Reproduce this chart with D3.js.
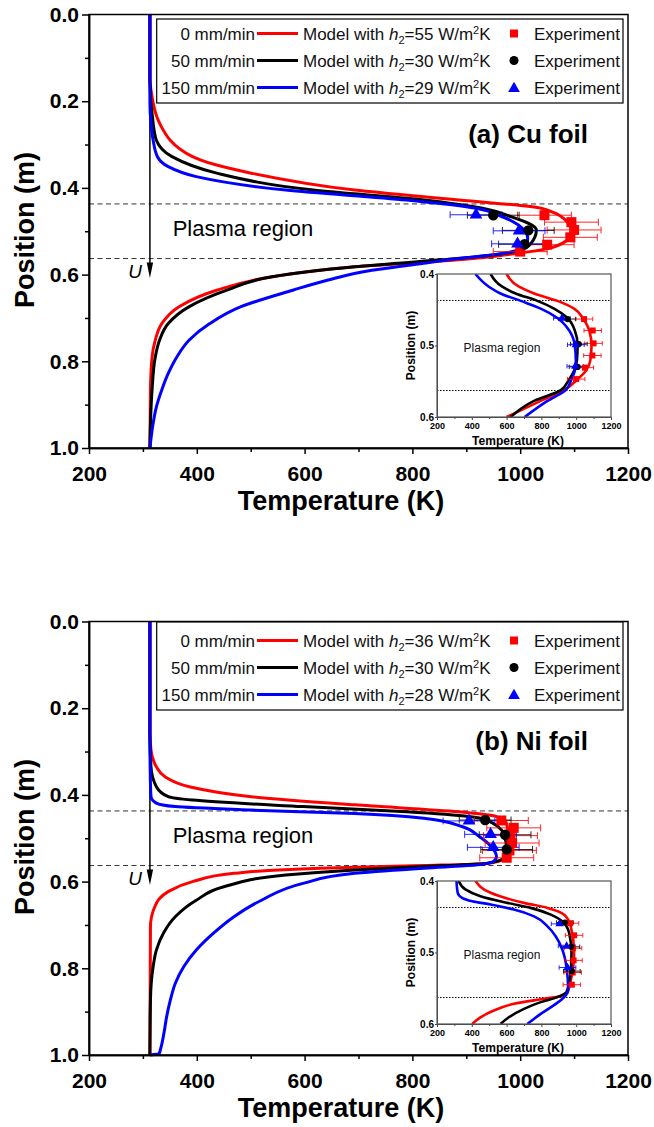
<!DOCTYPE html>
<html>
<head>
  <meta charset="utf-8">
  <title>Foil temperature profiles</title>
  <script src="https://d3js.org/d3.v7.min.js"></script>
  <style>
    body { margin: 0; background: #fff; }
    svg { display: block; }
  </style>
</head>
<body>
  <div id="chart"></div>

  <script>
    // ---- data: [position (m), temperature (K)] ----
    var speeds = ["0 mm/min", "50 mm/min", "150 mm/min"];
    var cuH2 = [55, 30, 29];
    var niH2 = [36, 30, 28];
    var xTickValues = [200, 400, 600, 800, 1000, 1200];
    var xMinorValues = [300, 500, 700, 900, 1100];
    var yTickValues = [0, 0.2, 0.4, 0.6, 0.8, 1.0];
    var yMinorValues = [0.1, 0.3, 0.5, 0.7, 0.9];
    var insetXTicks = [200, 400, 600, 800, 1000, 1200];
    var insetXMinor = [300, 500, 700, 900, 1100];
    var insetYTicks = [0.4, 0.5, 0.6];
    var plasmaBounds = [0.437, 0.563];

    // Cu foil, model curves
    var cuModel0 = [[0, 313], [0.15, 313], [0.174, 315], [0.251, 331], [0.328, 392], [0.366, 501], [0.405, 693],
      [0.428, 886], [0.447, 1039], [0.482, 1090], [0.501, 1097], [0.528, 1078], [0.543, 1039], [0.555, 969],
      [0.566, 886], [0.582, 693], [0.605, 540], [0.636, 437], [0.674, 367], [0.713, 335], [0.751, 323],
      [0.790, 317], [0.866, 314], [1.0, 313]];
    var cuModel50 = [[0, 313], [0.15, 313], [0.251, 319], [0.290, 325], [0.328, 354], [0.366, 437], [0.405, 616],
      [0.428, 821], [0.447, 930], [0.466, 982], [0.497, 1030], [0.528, 1020], [0.543, 1001], [0.555, 950],
      [0.566, 853], [0.582, 693], [0.605, 540], [0.636, 456], [0.674, 386], [0.713, 347], [0.751, 331],
      [0.790, 323], [0.866, 317], [1.0, 313]];
    var cuModel150 = [[0, 313], [0.2, 313], [0.251, 315], [0.290, 319], [0.328, 327], [0.351, 347], [0.374, 399],
      [0.405, 565], [0.428, 789], [0.447, 918], [0.466, 966], [0.497, 1007], [0.516, 1014], [0.536, 1007],
      [0.551, 969], [0.563, 886], [0.574, 821], [0.590, 725], [0.613, 642], [0.636, 578], [0.674, 482],
      [0.713, 424], [0.751, 386], [0.790, 363], [0.828, 347], [0.866, 335], [0.905, 325], [0.943, 319], [1.0, 313]];

    // Cu foil, inset curves
    var cuInset0 = [[0.4, 600], [0.4178, 671], [0.4272, 758], [0.4376, 892], [0.4484, 988], [0.4615, 1037],
      [0.4789, 1075], [0.5, 1088], [0.5211, 1081], [0.5352, 1056], [0.547, 1008], [0.5624, 931], [0.5775, 796], [0.6, 600]];
    var cuInset50 = [[0.4, 508], [0.4178, 575], [0.4272, 652], [0.4376, 777], [0.4484, 873], [0.4615, 950],
      [0.4789, 992], [0.5, 1008], [0.5211, 1004], [0.5352, 988], [0.547, 960], [0.5624, 912], [0.5775, 758], [0.6, 623]];
    var cuInset150 = [[0.4, 421], [0.4178, 498], [0.4272, 565], [0.4376, 681], [0.4484, 796], [0.4615, 892],
      [0.4789, 960], [0.5, 992], [0.5211, 998], [0.5352, 992], [0.547, 973], [0.5624, 940], [0.5775, 835], [0.6, 704]];

    // Cu foil, experiment
    var cuExp0 = [[0.463, 1045], [0.479, 1095], [0.497, 1100], [0.514, 1093], [0.531, 1050], [0.547, 1000]];
    var cuExp50 = [[0.463, 950], [0.498, 1015], [0.530, 1008]];
    var cuExp150 = [[0.462, 918], [0.499, 998], [0.529, 995]];
    var cuExpErr = [50, 48, 48];

    // Ni foil, model curves
    var niModel0 = [[0, 313], [0.258, 313], [0.296, 315], [0.335, 325], [0.358, 341], [0.381, 386], [0.404, 501],
      [0.423, 693], [0.439, 886], [0.450, 956], [0.466, 975], [0.504, 978], [0.535, 975], [0.550, 966],
      [0.558, 937], [0.563, 821], [0.569, 629], [0.581, 469], [0.600, 392], [0.623, 347], [0.658, 322],
      [0.704, 314], [1.0, 313]];
    var niModel50 = [[0, 313], [0.258, 313], [0.335, 315], [0.381, 325], [0.404, 347], [0.412, 392], [0.427, 597],
      [0.439, 789], [0.450, 905], [0.458, 937], [0.489, 969], [0.527, 975], [0.546, 969], [0.558, 937],
      [0.565, 821], [0.573, 693], [0.585, 565], [0.612, 450], [0.643, 399], [0.681, 360], [0.719, 338],
      [0.758, 325], [0.796, 319], [0.873, 314], [1.0, 313]];
    var niModel150 = [[0, 313], [0.258, 313], [0.373, 314], [0.404, 315], [0.419, 325], [0.427, 360], [0.435, 501],
      [0.443, 693], [0.454, 821], [0.473, 892], [0.496, 924], [0.519, 946], [0.542, 956], [0.554, 950],
      [0.562, 917], [0.569, 821], [0.581, 693], [0.604, 597], [0.643, 520], [0.681, 469], [0.719, 431],
      [0.758, 399], [0.796, 376], [0.835, 360], [0.873, 351], [0.912, 344], [0.950, 339], [0.985, 333],
      [0.997, 330], [1.0, 313]];

    // Ni foil, inset curves
    var niInset0 = [[0.4, 421], [0.4165, 508], [0.4306, 700], [0.4376, 835], [0.4471, 931], [0.4635, 969],
      [0.5012, 988], [0.5388, 969], [0.5553, 950], [0.5600, 931], [0.5647, 815], [0.5718, 642], [0.5812, 527],
      [0.5906, 450], [0.6, 402]];
    var niInset50 = [[0.4, 325], [0.4118, 363], [0.4212, 450], [0.4306, 604], [0.4376, 738], [0.4471, 854],
      [0.4565, 921], [0.4729, 960], [0.5012, 973], [0.5341, 965], [0.5553, 944], [0.5624, 892], [0.5694, 796],
      [0.5788, 700], [0.5906, 613], [0.6, 565]];
    var niInset150 = [[0.4, 312], [0.4165, 319], [0.4235, 344], [0.4282, 402], [0.4329, 508], [0.44, 642],
      [0.4494, 758], [0.4635, 835], [0.4776, 883], [0.4965, 921], [0.52, 944], [0.5529, 954], [0.5624, 931],
      [0.5718, 883], [0.5859, 796], [0.6, 719]];

    // Ni foil, experiment
    var niExp0 = [[0.459, 965], [0.476, 988], [0.494, 982], [0.511, 985], [0.528, 980], [0.545, 975]];
    var niExp50 = [[0.458, 935], [0.492, 972], [0.526, 975]];
    var niExp150 = [[0.460, 905], [0.491, 945], [0.521, 950]];
    var niExpErr = [50, 48, 48];

    // ---- styles ----
    var colors = ["#ff0000", "#000000", "#0000ff"];
    var symbols = [d3.symbolSquare, d3.symbolCircle, d3.symbolTriangle];
    var FONT = "'Liberation Sans', Arial, sans-serif";

    var svg = d3.select("#chart").append("svg")
      .attr("width", 654)
      .attr("height", 1127)
      .attr("font-family", FONT);

    var plotLeft = 89, plotRight = 628, plotH = 433.5;

    function modelLine(x, y) {
      return d3.line()
        .x(function(d) { return x(d[1]); })
        .y(function(d) { return y(d[0]); })
        .curve(d3.curveMonotoneY);
    }

    function drawPoints(g, x, y, exp, errs, symSizes, cap) {
      exp.forEach(function(pts, i) {
        var eg = g.append("g").attr("stroke", colors[i]).attr("stroke-width", 1).attr("opacity", 0.85);
        pts.forEach(function(d) {
          var yy = y(d[0]), x1 = x(d[1] - errs[i]), x2 = x(d[1] + errs[i]);
          eg.append("line").attr("x1", x1).attr("x2", x2).attr("y1", yy).attr("y2", yy);
          eg.append("line").attr("x1", x1).attr("x2", x1).attr("y1", yy - cap).attr("y2", yy + cap);
          eg.append("line").attr("x1", x2).attr("x2", x2).attr("y1", yy - cap).attr("y2", yy + cap);
        });
      });
      exp.forEach(function(pts, i) {
        g.selectAll(null).data(pts).enter().append("path")
          .attr("d", d3.symbol().type(symbols[i]).size(symSizes[i]))
          .attr("transform", function(d) { return "translate(" + x(d[1]) + "," + y(d[0]) + ")"; })
          .attr("fill", colors[i]);
      });
    }

    function drawPanel(top, cfg) {
      var x = d3.scaleLinear().domain([200, 1200]).range([plotLeft, plotRight]);
      var y = d3.scaleLinear().domain([0, 1]).range([top, top + plotH]);
      var g = svg.append("g");

      // plasma region limits
      g.selectAll(null).data(plasmaBounds).enter().append("line")
        .attr("x1", plotLeft).attr("x2", plotRight)
        .attr("y1", function(d) { return y(d); }).attr("y2", function(d) { return y(d); })
        .attr("stroke", "#333").attr("stroke-width", 1).attr("stroke-dasharray", "5,3.5");

      // arrow for pulling direction
      var ax = x(313);
      g.append("line").attr("x1", ax).attr("x2", ax).attr("y1", top).attr("y2", top + 250)
        .attr("stroke", "#000").attr("stroke-width", 1.5);
      g.append("path")
        .attr("d", "M" + (ax - 3.2) + "," + (top + 248) + "L" + (ax + 3.2) + "," + (top + 248) + "L" + ax + "," + (top + 263.5) + "Z")
        .attr("fill", "#000");
      g.append("text").attr("x", 142).attr("y", top + 263.5).attr("text-anchor", "end")
        .attr("font-size", 19).attr("font-style", "italic").text("U");

      // model curves
      cfg.models.forEach(function(m, i) {
        g.append("path").datum(m).attr("d", modelLine(x, y))
          .attr("fill", "none").attr("stroke", colors[i]).attr("stroke-width", 3);
      });

      drawPoints(g, x, y, cfg.exp, cfg.err, [100, 85, 70], 3.5);

      g.append("text").attr("x", 172.7).attr("y", top + 221.5)
        .attr("font-size", 22).text("Plasma region");

      g.append("text").attr("x", 588).attr("y", top + 128.5).attr("text-anchor", "end")
        .attr("font-size", 26).attr("font-weight", "bold").text(cfg.title);

      // axes
      var xAxis = g.append("g").attr("transform", "translate(0," + (top + plotH) + ")")
        .call(d3.axisBottom(x).tickValues(xTickValues).tickFormat(d3.format("d"))
          .tickSizeInner(6).tickSizeOuter(0).tickPadding(12));
      g.append("g").attr("transform", "translate(0," + (top + plotH) + ")")
        .call(d3.axisBottom(x).tickValues(xMinorValues).tickSizeInner(4).tickSizeOuter(0).tickFormat(""));
      var yAxis = g.append("g").attr("transform", "translate(" + plotLeft + ",0)")
        .call(d3.axisLeft(y).tickValues(yTickValues).tickFormat(d3.format(".1f")).tickSizeInner(7).tickSizeOuter(0).tickPadding(3));
      g.append("g").attr("transform", "translate(" + plotLeft + ",0)")
        .call(d3.axisLeft(y).tickValues(yMinorValues).tickSizeInner(4).tickSizeOuter(0).tickFormat(""));
      [xAxis, yAxis].forEach(function(a) {
        a.attr("font-family", FONT).attr("font-size", 21).attr("font-weight", "bold");
      });
      g.selectAll(".domain, .tick line").attr("stroke-width", 1.5);
      g.append("rect").attr("x", plotLeft).attr("y", top).attr("width", plotRight - plotLeft).attr("height", plotH)
        .attr("fill", "none").attr("stroke", "#000").attr("stroke-width", 1.5);

      g.append("text").attr("x", 341).attr("y", top + 495.5).attr("text-anchor", "middle")
        .attr("font-size", 27).attr("font-weight", "bold").text("Temperature (K)");
      g.append("text").attr("transform", "translate(34," + (top + 215.5) + ") rotate(-90)")
        .attr("text-anchor", "middle").attr("font-size", 27).attr("font-weight", "bold").text("Position (m)");

      // legend
      var lg = g.append("g");
      lg.append("rect").attr("x", 156.7).attr("y", top + cfg.legendTop).attr("width", 623 - 156.7)
        .attr("height", 88.5 - cfg.legendTop).attr("fill", "#fff").attr("stroke", "#000").attr("stroke-width", 1.2);
      speeds.forEach(function(s, i) {
        var ry = top + 19 + i * 27;
        lg.append("text").attr("x", 255).attr("y", ry + 6).attr("text-anchor", "end")
          .attr("font-size", 17).attr("fill", "#111").text(s);
        lg.append("line").attr("x1", 257).attr("x2", 298).attr("y1", ry).attr("y2", ry)
          .attr("stroke", colors[i]).attr("stroke-width", 3);
        var t = lg.append("text").attr("x", 303).attr("y", ry + 6).attr("font-size", 17).attr("fill", "#111");
        t.append("tspan").text("Model with ");
        t.append("tspan").attr("font-style", "italic").text("h");
        t.append("tspan").attr("font-size", 11).attr("dy", 4).text("2");
        t.append("tspan").attr("dy", -4).text("=" + cfg.h2[i] + " W/m");
        t.append("tspan").attr("font-size", 11).attr("dy", -6).text("2");
        t.append("tspan").attr("dy", 6).text("K");
        lg.append("path").attr("d", d3.symbol().type(symbols[i]).size([64, 64, 60][i]))
          .attr("transform", "translate(514," + (ry + (i === 2 ? 1 : 0)) + ")").attr("fill", colors[i]);
        lg.append("text").attr("x", 534).attr("y", ry + 6).attr("font-size", 17).attr("fill", "#111").text("Experiment");
      });

      // inset
      var ix = d3.scaleLinear().domain([200, 1200]).range([437, 611]);
      var iy = d3.scaleLinear().domain([0.4, 0.6]).range([top + 259.5, top + 402.5]);
      var ig = g.append("g");
      var clipId = "clip" + cfg.id;
      ig.append("clipPath").attr("id", clipId).append("rect")
        .attr("x", 437).attr("y", top + 259.5).attr("width", 174).attr("height", 143);
      ig.append("rect").attr("x", 437).attr("y", top + 259.5).attr("width", 174).attr("height", 143)
        .attr("fill", "#fff");
      ig.selectAll(null).data(plasmaBounds).enter().append("line")
        .attr("x1", 437).attr("x2", 611)
        .attr("y1", function(d) { return iy(d); }).attr("y2", function(d) { return iy(d); })
        .attr("stroke", "#000").attr("stroke-width", 1).attr("stroke-dasharray", "1.5,1.5");
      var cg = ig.append("g").attr("clip-path", "url(#" + clipId + ")");
      cfg.insets.forEach(function(m, i) {
        cg.append("path").datum(m).attr("d", modelLine(ix, iy))
          .attr("fill", "none").attr("stroke", colors[i]).attr("stroke-width", 2.6);
      });
      drawPoints(ig, ix, iy, cfg.exp, cfg.err, [36, 30, 30], 2.2);
      ig.append("text").attr("x", 463.6).attr("y", top + 337.5).attr("font-size", 12).attr("fill", "#111")
        .text("Plasma region");

      var ixa = ig.append("g").attr("transform", "translate(0," + (top + 402.5) + ")")
        .call(d3.axisBottom(ix).tickValues(insetXTicks).tickFormat(d3.format("d"))
          .tickSizeInner(3).tickSizeOuter(0).tickPadding(3));
      ig.append("g").attr("transform", "translate(0," + (top + 402.5) + ")")
        .call(d3.axisBottom(ix).tickValues(insetXMinor).tickSizeInner(2).tickSizeOuter(0).tickFormat(""));
      var iya = ig.append("g").attr("transform", "translate(437,0)")
        .call(d3.axisLeft(iy).tickValues(insetYTicks).tickFormat(d3.format(".1f")).tickSizeInner(2).tickSizeOuter(0).tickPadding(1));
      ixa.attr("font-family", FONT).attr("font-size", 9).attr("font-weight", "bold");
      iya.attr("font-family", FONT).attr("font-size", 10).attr("font-weight", "bold");
      ig.selectAll(".domain, .tick line").attr("stroke", "#444").attr("stroke-width", 1);
      ig.append("rect").attr("x", 437).attr("y", top + 259.5).attr("width", 174).attr("height", 143)
        .attr("fill", "none").attr("stroke", "#555").attr("stroke-width", 1.2);
      ig.append("text").attr("x", 518).attr("y", top + 430.5).attr("text-anchor", "middle")
        .attr("font-size", 12).attr("font-weight", "bold").text("Temperature (K)");
      ig.append("text").attr("transform", "translate(415," + (top + 331) + ") rotate(-90)")
        .attr("text-anchor", "middle").attr("font-size", 12).attr("font-weight", "bold").text("Position (m)");
    }

    drawPanel(14.5, {
      id: "a", title: "(a) Cu foil", h2: cuH2, legendTop: 4.5,
      models: [cuModel0, cuModel50, cuModel150],
      insets: [cuInset0, cuInset50, cuInset150],
      exp: [cuExp0, cuExp50, cuExp150], err: cuExpErr
    });
    drawPanel(621.5, {
      id: "b", title: "(b) Ni foil", h2: niH2, legendTop: 0.5,
      models: [niModel0, niModel50, niModel150],
      insets: [niInset0, niInset50, niInset150],
      exp: [niExp0, niExp50, niExp150], err: niExpErr
    });
  </script>
</body>
</html>
